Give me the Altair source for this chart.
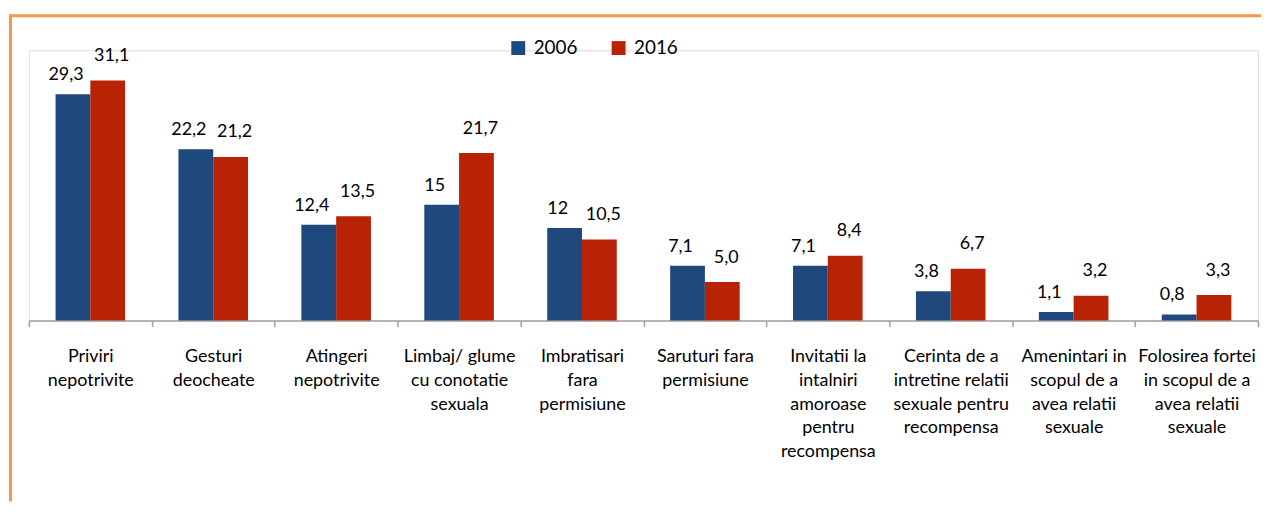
import altair as alt
import pandas as pd

categories = [
    "Priviri|nepotrivite",
    "Gesturi|deocheate",
    "Atingeri|nepotrivite",
    "Limbaj/ glume|cu conotatie|sexuala",
    "Imbratisari|fara|permisiune",
    "Saruturi fara|permisiune",
    "Invitatii la|intalniri|amoroase|pentru|recompensa",
    "Cerinta de a|intretine relatii|sexuale pentru|recompensa",
    "Amenintari in|scopul de a|avea relatii|sexuale",
    "Folosirea fortei|in scopul de a|avea relatii|sexuale",
]
years = ["2006", "2016"]
values_2006 = [29.3, 22.2, 12.4, 15, 12, 7.1, 7.1, 3.8, 1.1, 0.8]
values_2016 = [31.1, 21.2, 13.5, 21.7, 10.5, 5.0, 8.4, 6.7, 3.2, 3.3]
labels_2006 = ["29,3", "22,2", "12,4", "15", "12", "7,1", "7,1", "3,8", "1,1", "0,8"]
labels_2016 = ["31,1", "21,2", "13,5", "21,7", "10,5", "5,0", "8,4", "6,7", "3,2", "3,3"]

rows = []
for c, v1, l1, v2, l2 in zip(categories, values_2006, labels_2006, values_2016, labels_2016):
    rows.append({"cat": c, "year": "2006", "value": v1, "label": l1})
    rows.append({"cat": c, "year": "2016", "value": v2, "label": l2})
df = pd.DataFrame(rows)

W, H = 1237, 272
PAD_B = 182
FONT = "Lato"

x = alt.X(
    "cat:N",
    sort=categories,
    scale=alt.Scale(paddingInner=0, paddingOuter=0),
    axis=alt.Axis(
        title=None,
        labelAngle=0,
        labelExpr="split(datum.label, '|')",
        labelFont=FONT,
        labelFontSize=18,
        labelColor="#000000",
        labelLineHeight=24,
        labelPadding=21,
        labelLimit=0,
        labelBaseline="top",
        tickBand="extent",
        tickSize=6,
        tickWidth=1.5,
        tickColor="#A0A0A0",
        domainColor="#A0A0A0",
        domainWidth=1.5,
        grid=False,
    ),
)
xo = alt.XOffset("year:N", sort=years, scale=alt.Scale(paddingInner=0, paddingOuter=0.767))
y = alt.Y("value:Q", scale=alt.Scale(domain=[0, 35]), axis=None)
color = alt.Color(
    "year:N",
    scale=alt.Scale(domain=years, range=["#1F497D", "#B82306"]),
    legend=alt.Legend(
        title=None,
        orient="none",
        legendX=483,
        legendY=-12,
        direction="horizontal",
        symbolType="square",
        symbolSize=196,
        symbolStrokeWidth=0,
        labelFont=FONT,
        labelFontSize=19,
        labelColor="#000000",
        labelOffset=6,
        columnPadding=31,
        padding=0,
    ),
)

bars = alt.Chart(df).mark_bar().encode(x=x, xOffset=xo, y=y, color=color)
text_2006 = alt.Chart(df).transform_filter(alt.datum.year == "2006").mark_text(
    dx=-7, dy=-14, baseline="alphabetic", fontSize=18, font=FONT, color="#000000"
).encode(x=x, xOffset=xo, y=y, text="label:N")
text_2016 = alt.Chart(df).transform_filter(alt.datum.year == "2016").mark_text(
    dx=4, dy=-19.5, baseline="alphabetic", fontSize=18, font=FONT, color="#000000"
).encode(x=x, xOffset=xo, y=y, text="label:N")

frame = alt.Chart(alt.Data(values=[{}]))
top_rule = frame.mark_rule(color="#F79646", strokeWidth=3).encode(
    x=alt.value(-20), x2=alt.value(W + 3), y=alt.value(-34.7)
)
left_rule = frame.mark_rule(color="#F79646", strokeWidth=3).encode(
    x=alt.value(-18.5), y=alt.value(-36.2), y2=alt.value(H + PAD_B)
)

chart = (
    alt.layer(bars, text_2006, text_2016, top_rule, left_rule)
    .properties(
        width=W,
        height=H,
        padding={"left": 21, "top": 41, "right": 3, "bottom": PAD_B},
        autosize=alt.AutoSizeParams(type="none"),
    )
    .configure_view(stroke=None)
    .configure(font=FONT)
)

chart.save("out.html", embed_options={"renderer": "svg", "actions": False})
